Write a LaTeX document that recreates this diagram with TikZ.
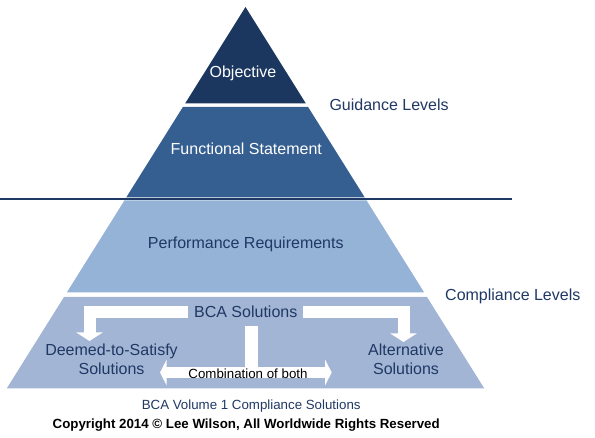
\documentclass[tikz,border=0pt]{standalone}
\usepackage{fontspec}
\setmainfont{Liberation Sans}
\usetikzlibrary{arrows.meta}
\definecolor{objcol}{HTML}{1B365F}
\definecolor{funccol}{HTML}{365F91}
\definecolor{perfcol}{HTML}{95B3D7}
\definecolor{botcol}{HTML}{A3B5D5}
\definecolor{darktext}{HTML}{1F3864}
\definecolor{linecol}{HTML}{1F3864}
\tikzset{
  big/.style={font=\fontsize{16}{19}\selectfont, inner sep=0pt},
  small/.style={font=\fontsize{13.3}{16}\selectfont, inner sep=0pt},
  onlight/.style={text=darktext},
  ondark/.style={text=white},
  wbar/.style={draw=white, line width=12pt, line join=miter,
    -{Triangle[width=26pt,length=8.5pt]}},
  wdouble/.style={draw=white, line width=11.5pt,
    {Triangle[width=25pt,length=6.5pt]}-{Triangle[width=25pt,length=6.5pt]}},
}
\begin{document}
\begin{tikzpicture}[x=1pt,y=-1pt]
\useasboundingbox (0,0) rectangle (595,438);
% pyramid tiers
\fill[objcol] (245.5,7) -- (305.9,103.5) -- (185.1,103.5) -- cycle;
\fill[funccol] (182.9,107) -- (308.1,107) -- (364.8,197.5) -- (126.2,197.5) -- cycle;
\fill[perfcol] (124.4,200.5) -- (366.6,200.5) -- (424.2,292.5) -- (66.8,292.5) -- cycle;
\fill[botcol] (64,297) -- (427,297) -- (484.3,388.5) -- (6.7,388.5) -- cycle;
% separator line
\coordinate (lineL) at (0,199);
\coordinate (lineR) at (512,199);
\draw[linecol, line width=1.2pt] (lineL) -- (lineR);
% tier labels
\node[big, ondark, anchor=base] (obj) at (243,77.7) {Objective};
\node[big, ondark, anchor=base] (func) at (246.3,155) {Functional Statement};
\node[big, onlight, anchor=base] (perf) at (245.8,248.7) {Performance Requirements};
\node[big, onlight, anchor=base west] (guid) at (329.3,110.7) {Guidance Levels};
\node[big, onlight, anchor=base west] (compl) at (445,300.7) {Compliance Levels};
% BCA solutions
\node[big, onlight, minimum width=115pt, minimum height=27pt] (bca) at (245.75,312) {BCA Solutions};
\node[big, onlight, align=center] (dts) at (111.5,359.7) {Deemed-to-Satisfy\\Solutions};
\node[big, onlight, align=center] (alt) at (406,359.7) {Alternative\\Solutions};
\coordinate (dtsTip) at (89.5,341);
\coordinate (altTip) at (403.5,342);
\coordinate (mid) at (251.5,372.5);
\coordinate (combL) at (160,372.5);
\coordinate (combR) at (331.7,372.5);
\draw[wbar] (bca.west) -| (dtsTip);
\draw[wbar] (bca.east) -| (altTip);
\draw[draw=white, line width=13pt] (bca.south -| mid) -- (mid);
\draw[wdouble] (combL) -- (combR);
\node[small, text=black, anchor=base] (comb) at (248,378.3) {Combination of both};
% captions
\node[small, onlight, anchor=base] (vol) at (251.2,409.7) {BCA Volume 1 Compliance Solutions};
\node[small, text=black, anchor=base, font=\fontsize{13.3}{16}\selectfont\bfseries] (copy) at (246.2,428.7) {Copyright 2014 © Lee Wilson, All Worldwide Rights Reserved};
\end{tikzpicture}
\end{document}
